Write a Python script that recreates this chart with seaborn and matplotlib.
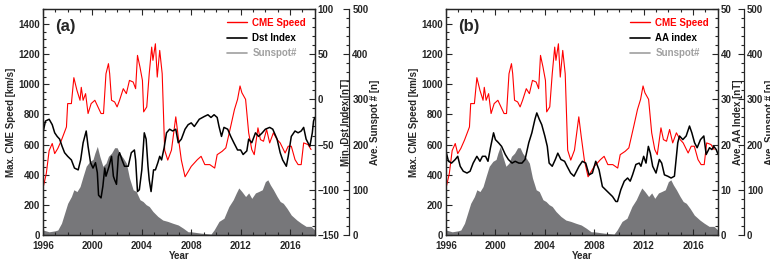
import numpy as np
import pandas as pd
import seaborn as sns
import matplotlib.pyplot as plt
from matplotlib.lines import Line2D
from matplotlib.ticker import MultipleLocator

# values (decimal years)
cme_year = [1996.0, 1996.27, 1996.5, 1996.75, 1996.95, 1997.2, 1997.5, 1997.75, 1997.9, 1998.0,
            1998.3, 1998.5, 1998.75, 1999.0, 1999.1, 1999.25, 1999.45, 1999.65, 1999.9, 2000.2,
            2000.45, 2000.7, 2000.9, 2001.1, 2001.3, 2001.4, 2001.55, 2001.8, 2002.0, 2002.2,
            2002.5, 2002.75, 2003.0, 2003.3, 2003.5, 2003.65, 2003.85, 2004.05, 2004.15, 2004.4,
            2004.6, 2004.8, 2004.9, 2005.1, 2005.25, 2005.45, 2005.65, 2005.85, 2006.1, 2006.4,
            2006.75, 2006.95, 2007.2, 2007.5, 2007.75, 2008.0, 2008.5, 2008.8, 2009.1, 2009.5,
            2009.9, 2010.1, 2010.5, 2010.8, 2011.2, 2011.5, 2011.75, 2011.95, 2012.1, 2012.4,
            2012.65, 2012.9, 2013.1, 2013.4, 2013.6, 2013.85, 2014.1, 2014.35, 2014.65, 2014.95,
            2015.2, 2015.6, 2015.85, 2016.1, 2016.4, 2016.65, 2016.9, 2017.1, 2017.45, 2017.7]
cme_speed = [310, 408, 560, 607, 540, 574, 630, 684, 717, 872,
             872, 1044, 960, 894, 980, 894, 938, 806, 872, 894,
             850, 806, 806, 1070, 1137, 1070, 894, 883, 850, 894,
             971, 938, 1026, 1015, 971, 1192, 1115, 1026, 817, 850,
             1070, 1247, 1159, 1269, 1048, 1225, 1070, 563, 497, 563,
             784, 651, 497, 386, 420, 455, 500, 522, 467, 467,
             444, 533, 555, 578, 722, 833, 900, 989, 944, 900,
             678, 567, 533, 711, 633, 622, 700, 611, 678, 633,
             611, 544, 589, 589, 500, 467, 467, 611, 600, 567]

dst_year = [1996.0, 1996.2, 1996.5, 1996.75, 1996.95, 1997.15, 1997.35, 1997.55, 1997.75, 1998.0,
            1998.3, 1998.55, 1998.85, 1999.05, 1999.25, 1999.5, 1999.65, 1999.85, 2000.05, 2000.25,
            2000.4, 2000.5, 2000.7, 2000.85, 2001.0, 2001.1, 2001.35, 2001.55, 2001.7, 2001.8,
            2001.95, 2002.1, 2002.2, 2002.4, 2002.6, 2002.9, 2003.15, 2003.4, 2003.5, 2003.65,
            2003.8, 2004.0, 2004.2, 2004.35, 2004.5, 2004.6, 2004.75, 2004.95, 2005.1, 2005.3,
            2005.45, 2005.6, 2005.8, 2006.0, 2006.25, 2006.5, 2006.75, 2006.95, 2007.2, 2007.5,
            2007.75, 2008.0, 2008.25, 2008.65, 2009.05, 2009.35, 2009.6, 2009.85, 2010.1, 2010.25,
            2010.45, 2010.65, 2010.95, 2011.2, 2011.45, 2011.75, 2012.0, 2012.2, 2012.5, 2012.65,
            2012.9, 2013.2, 2013.45, 2013.75, 2014.0, 2014.35, 2014.6, 2014.95, 2015.2, 2015.4,
            2015.7, 2015.85, 2016.1, 2016.4, 2016.65, 2016.9, 2017.1, 2017.3, 2017.6, 2017.8,
            2017.9, 2018.0]
dst_min = [-37, -24, -22, -28, -37, -41, -44, -52, -59, -63,
           -67, -76, -78, -67, -48, -35, -52, -70, -76, -70,
           -81, -106, -109, -96, -76, -85, -74, -63, -85, -89,
           -94, -63, -59, -67, -74, -74, -59, -56, -67, -102,
           -100, -78, -37, -44, -74, -89, -102, -78, -78, -70,
           -63, -67, -54, -37, -33, -35, -33, -48, -44, -33,
           -28, -26, -30, -22, -19, -17, -20, -17, -20, -30,
           -41, -31, -33, -41, -48, -56, -56, -61, -57, -44,
           -48, -37, -41, -37, -33, -31, -33, -44, -59, -67,
           -74, -63, -41, -35, -37, -35, -31, -44, -52, -37,
           -24, -20]

aa_year = [1996.0, 1996.2, 1996.45, 1996.75, 1996.95, 1997.15, 1997.4, 1997.7, 1997.95, 1998.2,
           1998.5, 1998.75, 1998.95, 1999.2, 1999.4, 1999.6, 1999.85, 2000.0, 2000.25, 2000.5,
           2000.8, 2001.05, 2001.35, 2001.6, 2001.9, 2002.15, 2002.4, 2002.7, 2002.95, 2003.2,
           2003.35, 2003.55, 2003.75, 2004.0, 2004.2, 2004.35, 2004.6, 2004.85, 2005.05, 2005.3,
           2005.6, 2005.8, 2006.09, 2006.36, 2006.77, 2007.04, 2007.31, 2007.58, 2007.85, 2008.12,
           2008.39, 2008.66, 2009.07, 2009.48, 2009.75, 2009.88, 2010.15, 2010.43, 2010.7, 2010.91,
           2011.1, 2011.37, 2011.64, 2011.78, 2012.0, 2012.19, 2012.38, 2012.54, 2012.73, 2013.0,
           2013.27, 2013.46, 2013.68, 2013.95, 2014.22, 2014.49, 2014.76, 2014.9, 2015.17, 2015.44,
           2015.71, 2015.9, 2016.12, 2016.33, 2016.6, 2016.87, 2017.06, 2017.33, 2017.52, 2017.68,
           2017.87, 2018.0]
aa_ave = [18.5, 16.3, 15.9, 16.7, 17.4, 15.2, 14.1, 13.7, 14.1, 15.9,
          17.4, 16.3, 17.4, 17.4, 16.3, 19.3, 22.6, 21.1, 20.4, 19.6,
          17.8, 16.7, 15.9, 16.3, 15.9, 15.9, 16.7, 20.4, 22.6, 25.6,
          27.0, 25.6, 24.4, 21.9, 19.6, 15.9, 15.2, 16.7, 18.1, 16.7,
          16.3, 15.2, 13.7, 13.0, 15.2, 16.3, 15.9, 13.3, 13.7, 16.3,
          14.4, 10.7, 9.6, 8.5, 7.4, 7.4, 10.0, 11.9, 12.6, 11.9,
          13.3, 15.6, 15.9, 15.2, 17.4, 15.9, 19.6, 18.1, 15.2, 13.7,
          16.7, 15.9, 13.3, 13.0, 12.6, 13.0, 20.4, 21.9, 21.1, 21.9,
          24.1, 22.6, 20.4, 19.3, 21.1, 21.9, 17.8, 19.3, 18.9, 19.6,
          18.9, 18.0]

ssn_year = [1996.0, 1996.5, 1996.95, 1997.2, 1997.5, 1997.75, 1998.0, 1998.3, 1998.5, 1998.75,
            1999.0, 1999.25, 1999.5, 1999.8, 2000.05, 2000.2, 2000.4, 2000.6, 2000.85, 2001.1,
            2001.3, 2001.55, 2001.8, 2002.0, 2002.2, 2002.5, 2002.75, 2003.0, 2003.3, 2003.55,
            2003.85, 2004.1, 2004.35, 2004.6, 2004.9, 2005.3, 2005.7, 2006.1, 2006.5, 2006.95,
            2007.35, 2007.75, 2008.0, 2008.8, 2009.6, 2009.85, 2010.25, 2010.65, 2011.05, 2011.4,
            2011.65, 2011.85, 2012.1, 2012.4, 2012.65, 2012.9, 2013.2, 2013.45, 2013.75, 2014.0,
            2014.2, 2014.4, 2014.65, 2014.95, 2015.2, 2015.45, 2015.75, 2016.1, 2016.55, 2016.9,
            2017.3, 2017.7, 2018.0]
ssn_ave = [11, 7, 9, 11, 26, 48, 70, 85, 100, 96,
           107, 130, 152, 163, 167, 181, 196, 174, 152, 159,
           174, 181, 193, 193, 181, 170, 159, 126, 100, 96,
           78, 74, 67, 63, 52, 41, 33, 30, 26, 22,
           15, 7, 7, 4, 2, 11, 30, 37, 63, 78,
           93, 104, 96, 85, 93, 81, 93, 96, 100, 118,
           122, 111, 100, 85, 74, 70, 59, 44, 33, 26,
           19, 19, 11]

cme_df = pd.DataFrame({"Year": cme_year, "Speed": cme_speed})
dst_df = pd.DataFrame({"Year": dst_year, "Index": dst_min})
aa_df = pd.DataFrame({"Year": aa_year, "Index": aa_ave})
ssn_df = pd.DataFrame({"Year": ssn_year, "SSN": ssn_ave})

sns.set_style("ticks")
plt.rcParams["font.family"] = ["Liberation Sans", "DejaVu Sans"]
plt.rcParams["font.weight"] = "bold"
plt.rcParams["axes.labelweight"] = "bold"
plt.rcParams["font.size"] = 7
plt.rcParams["axes.linewidth"] = 0.9

GREY = "#77777a"

fig = plt.figure(figsize=(7.7, 2.64), dpi=100)


def style_ticks(axis):
    axis.tick_params(which="both", direction="in", width=0.8, pad=2, labelsize=7)
    axis.tick_params(which="major", length=4)
    axis.tick_params(which="minor", length=2)


def panel(left, tag, idx_df, idx_name, idx_label, idx_lim, idx_major, idx_minor, offset):
    ax = fig.add_axes([left, 0.11, 0.353, 0.856])
    ax_ss = ax.twinx()
    ax_ix = ax.twinx()
    ax_ss.set_zorder(0)
    ax.set_zorder(1)
    ax_ix.set_zorder(2)
    ax.patch.set_visible(False)

    ax_ss.fill_between(ssn_df["Year"], 0, ssn_df["SSN"], color=GREY, lw=0)
    sns.lineplot(data=cme_df, x="Year", y="Speed", ax=ax, color="red", lw=0.8)
    sns.lineplot(data=idx_df, x="Year", y="Index", ax=ax_ix, color="black", lw=1.1)

    ax.set_xlim(1996, 2018)
    ax.set_ylim(0, 1500)
    ax.xaxis.set_major_locator(MultipleLocator(4))
    ax.xaxis.set_minor_locator(MultipleLocator(1))
    ax.yaxis.set_major_locator(MultipleLocator(200))
    ax.yaxis.set_minor_locator(MultipleLocator(50))
    ax.tick_params(axis="x", which="both", top=True)
    style_ticks(ax)
    ax.tick_params(axis="x", pad=4)
    ax.set_xlabel("Year", labelpad=0)
    ax.set_ylabel("Max. CME Speed [km/s]", labelpad=2)

    ax_ix.set_ylim(*idx_lim)
    ax_ix.yaxis.set_major_locator(MultipleLocator(idx_major))
    ax_ix.yaxis.set_minor_locator(MultipleLocator(idx_minor))
    style_ticks(ax_ix)
    ax_ix.set_ylabel(idx_label, labelpad=1)

    ax_ss.set_ylim(0, 500)
    ax_ss.yaxis.set_major_locator(MultipleLocator(100))
    ax_ss.yaxis.set_minor_locator(MultipleLocator(20))
    ax_ss.spines["right"].set_position(("outward", offset))
    for s in ["top", "bottom", "left"]:
        ax_ss.spines[s].set_visible(False)
    style_ticks(ax_ss)
    ax_ss.set_ylabel("Ave. Sunspot # [n]", labelpad=1)

    ax.text(0.045, 0.955, tag, transform=ax.transAxes, fontsize=12,
            fontweight="bold", va="top", ha="left")

    handles = [Line2D([], [], color="red", lw=1),
               Line2D([], [], color="black", lw=1.2),
               Line2D([], [], color="#a0a0a0", lw=1.2)]
    ax_ix.legend(handles, ["CME Speed", idx_name, "Sunspot#"], loc="upper right",
                 frameon=False, fontsize=7, handlelength=2.0, handletextpad=0.6,
                 labelspacing=0.55, borderaxespad=0.5,
                 labelcolor=["red", "black", "#a0a0a0"])


panel(0.0558, "(a)", dst_df, "Dst Index", "Min. Dst Index [nT]", (-150, 100), 50, 10, 25)
panel(0.5792, "(b)", aa_df, "AA index", "Ave. AA Index [nT]", (0, 50), 10, 2, 19)

fig.savefig("out.png", dpi=100)
